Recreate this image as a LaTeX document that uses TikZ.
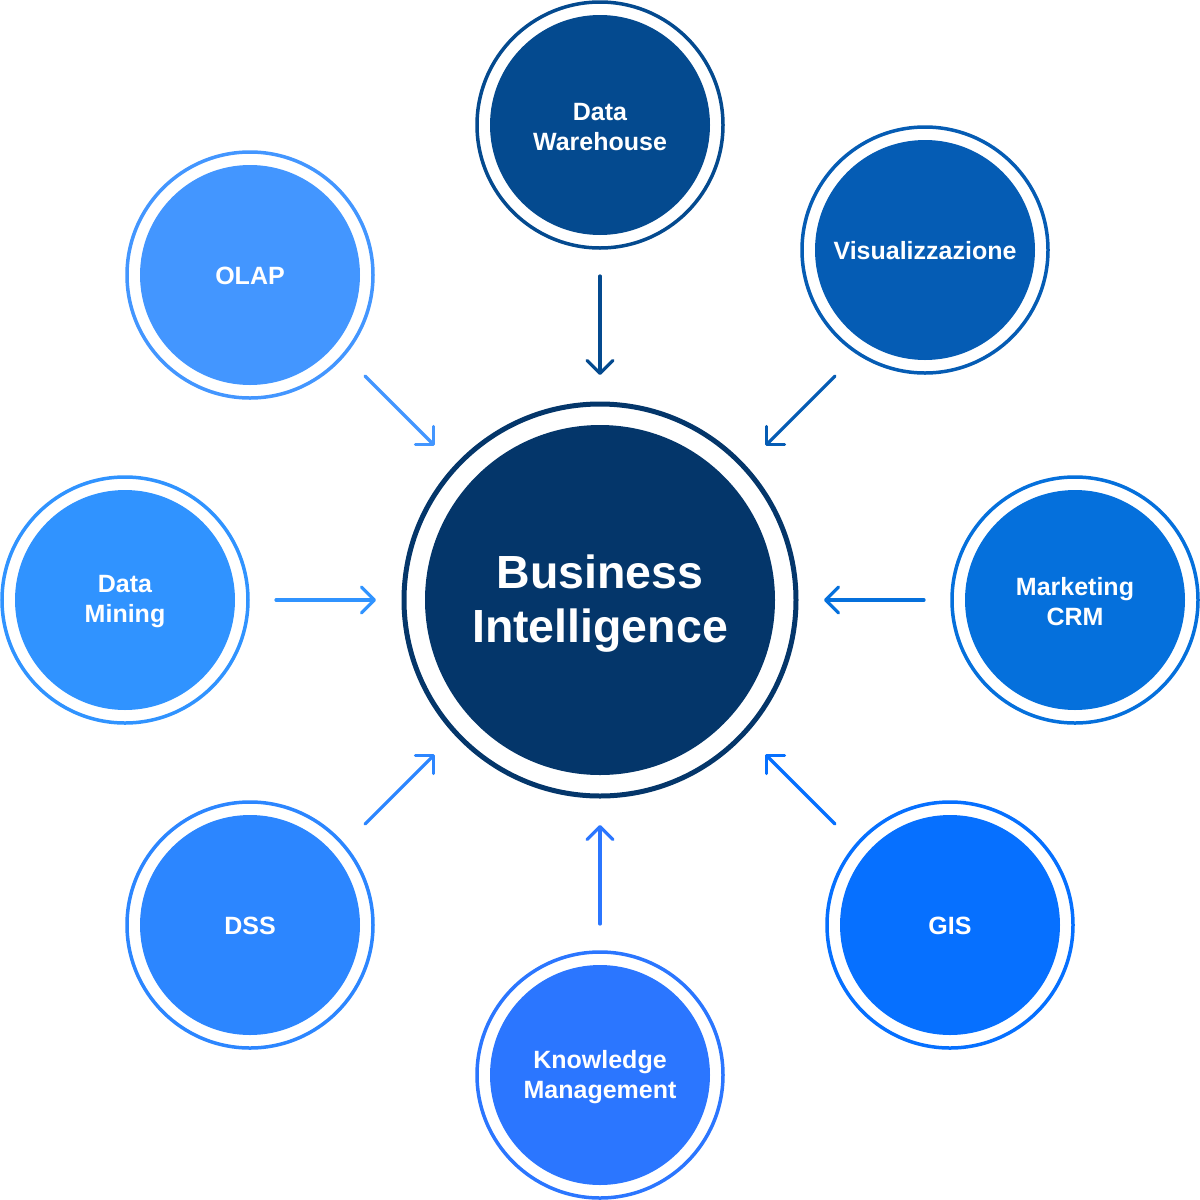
\documentclass[tikz,border=0pt]{standalone}
\usepackage{fontspec}
\setmainfont{Liberation Sans}
\usetikzlibrary{arrows.meta}
\definecolor{cBI}{HTML}{04366A}
\definecolor{cDW}{HTML}{044A8F}
\definecolor{cVIS}{HTML}{055CB4}
\definecolor{cMKT}{HTML}{0570DC}
\definecolor{cGIS}{HTML}{0670FF}
\definecolor{cKM}{HTML}{2B76FF}
\definecolor{cDSS}{HTML}{2C86FF}
\definecolor{cDM}{HTML}{3093FF}
\definecolor{cOLAP}{HTML}{4396FF}
\tikzset{
  sat/.style={circle, inner sep=0pt, minimum size=220pt, fill=#1},
  satlbl/.style={inner sep=0pt, text=white, align=center,
    font=\bfseries\fontsize{25}{30}\selectfont},
  ring/.style={draw=#1, line width=3.5pt},
  hub/.style={circle, inner sep=0pt, minimum size=350pt, fill=cBI},
  hublbl/.style={inner sep=0pt, text=white, align=center,
    font=\bfseries\fontsize{46.5}{54}\selectfont},
  feed/.style={draw=#1, line width=3.2pt, line cap=round,
    -{Straight Barb[length=13pt,width=26pt,round]}}
}
\begin{document}
\begin{tikzpicture}[x=1pt,y=-1pt]
\useasboundingbox (0,0) rectangle (1200,1200);
% hub
\node[hub] (bi) at (600,600) {};
\draw[cBI, line width=5pt] (bi.center) circle[radius=196pt];
\node[hublbl] (biL) at ([yshift=-4pt]bi.center) {Business\\Intelligence};
% satellites
\node[sat=cDW]   (dw)   at (600,125)  {};
\node[sat=cVIS]  (vis)  at (925,250)  {};
\node[sat=cMKT]  (mkt)  at (1075,600) {};
\node[sat=cGIS]  (gis)  at (950,925)  {};
\node[sat=cKM]   (km)   at (600,1075) {};
\node[sat=cDSS]  (dss)  at (250,925)  {};
\node[sat=cDM]   (dm)   at (125,600)  {};
\node[sat=cOLAP] (olap) at (250,275)  {};
\foreach \n/\c in {dw/cDW,vis/cVIS,mkt/cMKT,gis/cGIS,km/cKM,dss/cDSS,dm/cDM,olap/cOLAP}
  \draw[ring=\c] (\n.center) circle[radius=123pt];
\node[satlbl] (dwL)   at ([yshift=-2pt]dw.center)   {Data\\Warehouse};
\node[satlbl] (visL)  at ([yshift=-1pt]vis.center)  {Visualizzazione};
\node[satlbl] (mktL)  at ([yshift=-2pt]mkt.center)  {Marketing\\CRM};
\node[satlbl] (gisL)  at ([yshift=-1pt]gis.center)  {GIS};
\node[satlbl] (kmL)   at ([yshift=-2pt]km.center)   {Knowledge\\Management};
\node[satlbl] (dssL)  at ([yshift=-1pt]dss.center)  {DSS};
\node[satlbl] (dmL)   at ([yshift=-2pt]dm.center)   {Data\\Mining};
\node[satlbl] (olapL) at ([yshift=-1pt]olap.center) {OLAP};
% arrow end points
\coordinate (dwA) at (600,276);  \coordinate (dwB) at (600,375);
\coordinate (visA) at (835,376); \coordinate (visB) at (765,446);
\coordinate (mktA) at (924,600); \coordinate (mktB) at (824,600);
\coordinate (gisA) at (835,824); \coordinate (gisB) at (765,754);
\coordinate (kmA) at (600,924);  \coordinate (kmB) at (600,825);
\coordinate (dssA) at (365,824); \coordinate (dssB) at (435,754);
\coordinate (dmA) at (276,600);  \coordinate (dmB) at (376,600);
\coordinate (olapA) at (365,376); \coordinate (olapB) at (435,446);
\draw[feed=cDW] (dwA) -- (dwB);
\draw[feed=cVIS] (visA) -- (visB);
\draw[feed=cMKT] (mktA) -- (mktB);
\draw[feed=cGIS] (gisA) -- (gisB);
\draw[feed=cKM] (kmA) -- (kmB);
\draw[feed=cDSS] (dssA) -- (dssB);
\draw[feed=cDM] (dmA) -- (dmB);
\draw[feed=cOLAP] (olapA) -- (olapB);
\end{tikzpicture}
\end{document}
